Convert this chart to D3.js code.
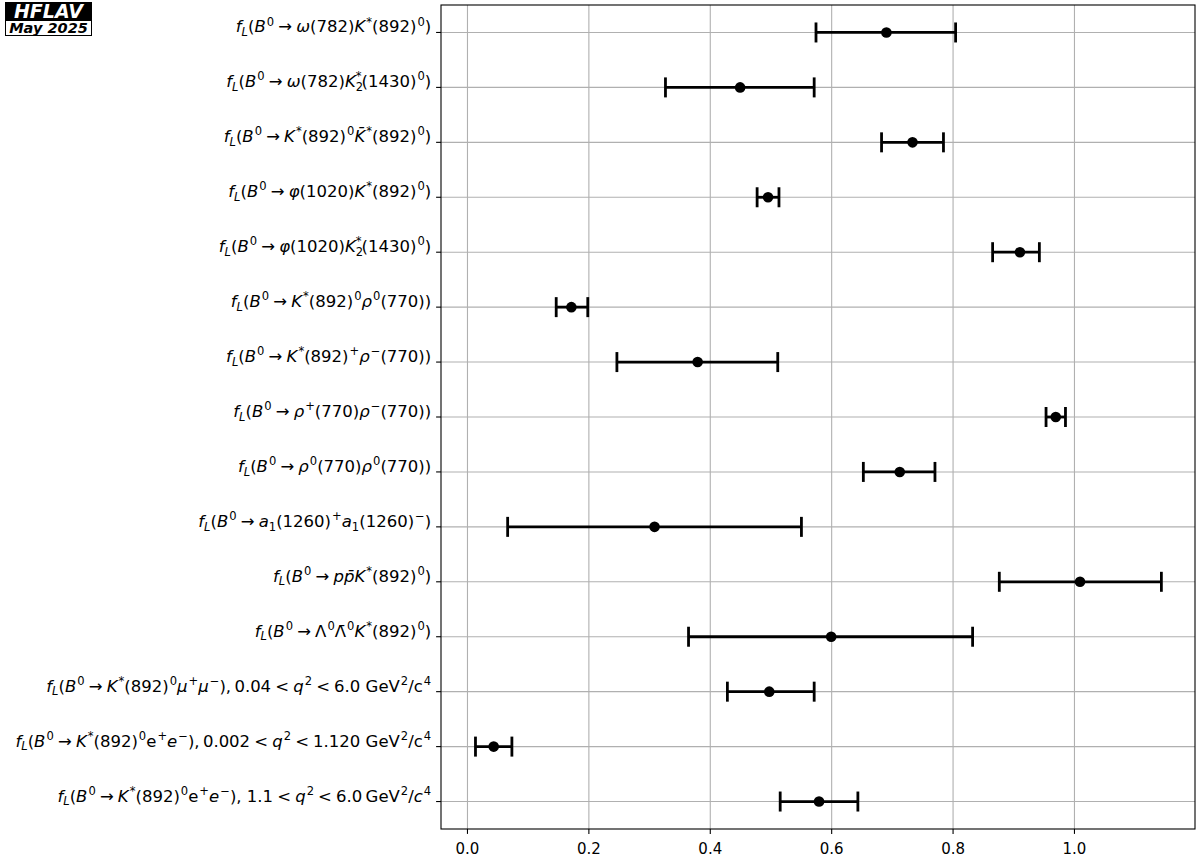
<!DOCTYPE html>
<html>
<head>
<meta charset="utf-8">
<script src="https://cdn.jsdelivr.net/npm/d3@7"></script>
<style>
  body { margin: 0; background: #fff; }
  svg text { font-family: "DejaVu Sans", sans-serif; }
</style>
</head>
<body>
<div id="chart"></div>
<script>
// labels use a small markup: _{} sub, ^{} sup, @{} upright letters
var labels = [
  "f_{L}(B^{0}\u2005\u2192\u2005ω(782)K^{*}(892)^{0})",
  "f_{L}(B^{0}\u2005\u2192\u2005ω(782)K_{2}^{*}(1430)^{0})",
  "f_{L}(B^{0}\u2005\u2192\u2005K^{*}(892)^{0}K\u0304^{*}(892)^{0})",
  "f_{L}(B^{0}\u2005\u2192\u2005φ(1020)K^{*}(892)^{0})",
  "f_{L}(B^{0}\u2005\u2192\u2005φ(1020)K_{2}^{*}(1430)^{0})",
  "f_{L}(B^{0}\u2005\u2192\u2005K^{*}(892)^{0}ρ^{0}(770))",
  "f_{L}(B^{0}\u2005\u2192\u2005K^{*}(892)^{+}ρ^{\u2212}(770))",
  "f_{L}(B^{0}\u2005\u2192\u2005ρ^{+}(770)ρ^{\u2212}(770))",
  "f_{L}(B^{0}\u2005\u2192\u2005ρ^{0}(770)ρ^{0}(770))",
  "f_{L}(B^{0}\u2005\u2192\u2005a_{1}(1260)^{+}a_{1}(1260)^{\u2212})",
  "f_{L}(B^{0}\u2005\u2192\u2005pp\u0304K^{*}(892)^{0})",
  "f_{L}(B^{0}\u2005\u2192\u2005Λ^{0}Λ\u0304^{0}K^{*}(892)^{0})",
  "f_{L}(B^{0}\u2005\u2192\u2005K^{*}(892)^{0}μ^{+}μ^{\u2212}),\u20090.04\u2005<\u2005q^{2}\u2005<\u20056.0 @{GeV}^{2}/@{c}^{4}",
  "f_{L}(B^{0}\u2005\u2192\u2005K^{*}(892)^{0}@{e}^{+}e^{\u2212}),\u20090.002\u2005<\u2005q^{2}\u2005<\u20051.120 @{GeV}^{2}/@{c}^{4}",
  "f_{L}(B^{0}\u2005\u2192\u2005K^{*}(892)^{0}@{e}^{+}e^{\u2212}), 1.1\u2005<\u2005q^{2}\u2005<\u20056.0\u2009@{GeV}^{2}/c^{4}"
]
var values = [0.691, 0.450, 0.734, 0.496, 0.911, 0.172, 0.380, 0.970, 0.713, 0.309, 1.010, 0.600, 0.498, 0.044, 0.580]
var lower = [0.575, 0.327, 0.683, 0.478, 0.866, 0.147, 0.247, 0.954, 0.653, 0.067, 0.877, 0.365, 0.429, 0.014, 0.516]
var upper = [0.805, 0.572, 0.785, 0.514, 0.943, 0.199, 0.512, 0.986, 0.771, 0.551, 1.144, 0.833, 0.572, 0.074, 0.644]
var xTicks = [0, 0.2, 0.4, 0.6, 0.8, 1.0]

var width = 1200
var height = 864
var margin = { top: 5, right: 5, bottom: 35, left: 441 }
var fontSize = 16.5
var tickFont = 15
var font = "DejaVu Sans"

var data = labels.map((l, i) => ({ label: l, value: values[i], lo: lower[i], hi: upper[i] }))

var svg = d3.select("#chart")
  .append("svg")
  .attr("width", width)
  .attr("height", height)

var xScale = d3.scaleLinear()
  .domain([-0.0428, 1.1994])
  .range([margin.left, width - margin.right])

var yScale = d3.scaleBand()
  .domain(labels)
  .range([margin.top, height - margin.bottom])
  .padding(0)

var half = yScale.bandwidth() / 2

// grid
svg.append("g")
  .attr("class", "grid")
  .attr("transform", `translate(0,${height - margin.bottom})`)
  .call(d3.axisBottom(xScale).tickValues(xTicks).tickSize(-(height - margin.top - margin.bottom)).tickFormat(""))
  .call(g => g.select(".domain").remove())
  .selectAll("line")
  .attr("stroke", "#b0b0b0")
  .attr("stroke-width", 1.1)

svg.append("g")
  .attr("class", "grid")
  .attr("transform", `translate(${margin.left},0)`)
  .call(d3.axisLeft(yScale).tickSize(-(width - margin.left - margin.right)).tickFormat(""))
  .call(g => g.select(".domain").remove())
  .selectAll("line")
  .attr("stroke", "#b0b0b0")
  .attr("stroke-width", 1.1)

// error bars
var bars = svg.append("g").attr("class", "bars")

bars.selectAll(".err")
  .data(data)
  .enter()
  .append("line")
  .attr("class", "err")
  .attr("x1", d => xScale(d.lo))
  .attr("x2", d => xScale(d.hi))
  .attr("y1", d => yScale(d.label) + half)
  .attr("y2", d => yScale(d.label) + half)
  .attr("stroke", "black")
  .attr("stroke-width", 2.8)

bars.selectAll(".cap-lo")
  .data(data)
  .enter()
  .append("line")
  .attr("class", "cap-lo")
  .attr("x1", d => xScale(d.lo))
  .attr("x2", d => xScale(d.lo))
  .attr("y1", d => yScale(d.label) + half - 10)
  .attr("y2", d => yScale(d.label) + half + 10)
  .attr("stroke", "black")
  .attr("stroke-width", 2.8)

bars.selectAll(".cap-hi")
  .data(data)
  .enter()
  .append("line")
  .attr("class", "cap-hi")
  .attr("x1", d => xScale(d.hi))
  .attr("x2", d => xScale(d.hi))
  .attr("y1", d => yScale(d.label) + half - 10)
  .attr("y2", d => yScale(d.label) + half + 10)
  .attr("stroke", "black")
  .attr("stroke-width", 2.8)

bars.selectAll(".dot")
  .data(data)
  .enter()
  .append("circle")
  .attr("class", "dot")
  .attr("cx", d => xScale(d.value))
  .attr("cy", d => yScale(d.label) + half)
  .attr("r", 5.3)
  .attr("fill", "black")

// frame
svg.append("rect")
  .attr("x", margin.left)
  .attr("y", margin.top)
  .attr("width", width - margin.left - margin.right)
  .attr("height", height - margin.top - margin.bottom)
  .attr("fill", "none")
  .attr("stroke", "black")
  .attr("stroke-width", 1.1)

// x axis
svg.append("g")
  .attr("class", "x-axis")
  .attr("transform", `translate(0,${height - margin.bottom})`)
  .call(d3.axisBottom(xScale).tickValues(xTicks).tickFormat(d3.format(".1f")).tickSize(4.9).tickPadding(9))
  .attr("font-family", font)
  .call(g => g.select(".domain").remove())
  .call(g => g.selectAll("line").attr("stroke", "black").attr("stroke-width", 1.1))
  .selectAll("text")
  .style("font-size", tickFont + "px")
  .style("font-family", font)
  .attr("fill", "black")

// y axis
var yAxis = svg.append("g")
  .attr("class", "y-axis")
  .attr("transform", `translate(${margin.left},0)`)
  .call(d3.axisLeft(yScale).tickSize(4.9).tickPadding(4.9))
  .attr("font-family", font)
  .call(g => g.select(".domain").remove())
  .call(g => g.selectAll("line").attr("stroke", "black").attr("stroke-width", 1.1))

yAxis.selectAll(".tick text")
  .attr("fill", "black")
  .style("font-size", fontSize + "px")
  .style("font-family", font)
  .each(function(d) { mathText(d3.select(this), d) })

// parse the markup into runs of (text, italic, level)
function parseMath(str) {
  var segs = []
  var stack = [{ lvl: 0, up: false }]
  var lastClosedSub = false
  for (var i = 0; i < str.length; i++) {
    var c = str[i]
    var top = stack[stack.length - 1]
    if ((c === "_" || c === "^" || c === "@") && str[i + 1] === "{") {
      var lvl = c === "_" ? top.lvl - 1 : c === "^" ? top.lvl + 1 : top.lvl
      stack.push({ lvl: lvl, up: c === "@" ? true : top.up, stack: c === "^" && lastClosedSub })
      segs.push(null)
      i++
      lastClosedSub = false
      continue
    }
    if (c === "}") {
      var popped = stack.pop()
      segs.push(null)
      lastClosedSub = popped.lvl < stack[stack.length - 1].lvl
      continue
    }
    lastClosedSub = false
    var it = !top.up && /[A-Za-zα-ω]/.test(c)
    var prev = segs[segs.length - 1]
    if (c === "\u0304" && prev) { prev.t += c; continue }
    if (prev && prev.it === it && prev.lvl === top.lvl) {
      prev.t += c
    } else {
      segs.push({ t: c, it: it, lvl: top.lvl, stack: !!top.stack })
      top.stack = false
    }
  }
  return segs.filter(s => s)
}

function mathText(sel, str) {
  sel.text(null)
  var segs = parseMath(str)
  var prevOff = 0
  var prevNode = null
  var prevLvl = 0
  segs.forEach(s => {
    var off = s.lvl > 0 ? -0.42 * fontSize : s.lvl < 0 ? 0.22 * fontSize : 0
    var ts = sel.append("tspan")
      .text(s.t)
      .attr("dy", off - prevOff)
      .style("font-size", (s.lvl === 0 ? fontSize : fontSize * 0.7) + "px")
      .style("font-style", s.it ? "italic" : "normal")
    if (s.stack && prevNode && prevLvl < 0) {
      ts.attr("dx", -prevNode.getComputedTextLength())
    } else if (s.lvl > 0 && prevLvl === 0) {
      ts.attr("dx", 1)
    }
    prevOff = off
    prevNode = ts.node()
    prevLvl = s.lvl
  })
}

// HFLAV badge
var badge = svg.append("g").attr("class", "badge")
badge.append("rect")
  .attr("x", 5).attr("y", 2).attr("width", 87).attr("height", 18)
  .attr("fill", "black")
badge.append("text")
  .attr("x", 48.5).attr("y", 18)
  .attr("text-anchor", "middle")
  .attr("fill", "white")
  .style("font-size", "19px")
  .style("font-weight", "bold")
  .style("font-style", "italic")
  .text("HFLAV")
badge.append("rect")
  .attr("x", 5.5).attr("y", 20.5).attr("width", 86).attr("height", 15)
  .attr("fill", "white")
  .attr("stroke", "black")
  .attr("stroke-width", 1)
badge.append("text")
  .attr("x", 48.5).attr("y", 33)
  .attr("text-anchor", "middle")
  .attr("fill", "black")
  .style("font-size", "14.5px")
  .style("font-weight", "bold")
  .style("font-style", "italic")
  .text("May 2025")
</script>
</body>
</html>
